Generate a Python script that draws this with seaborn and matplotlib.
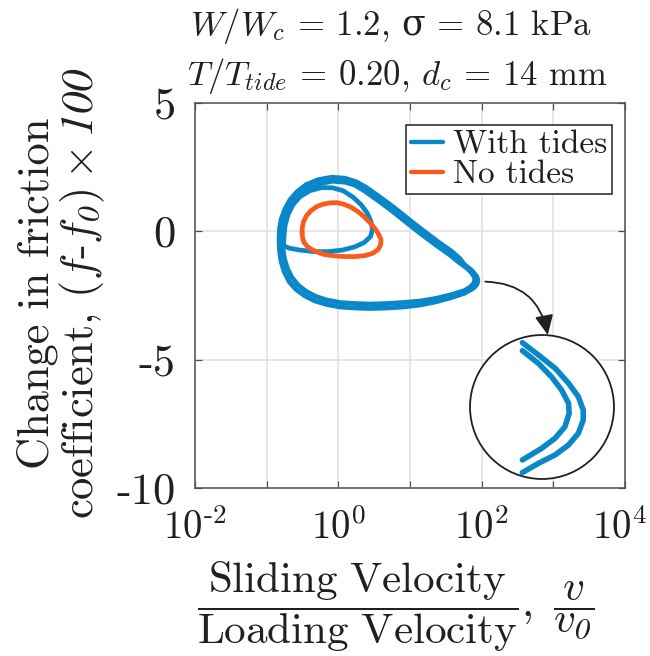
import numpy as np
import pandas as pd
import matplotlib
matplotlib.use("Agg")
import matplotlib.pyplot as plt
import seaborn as sns
from matplotlib.patches import Circle
from matplotlib.lines import Line2D
from matplotlib.transforms import ScaledTranslation
from matplotlib.ticker import FixedLocator, LogLocator, NullFormatter

# ---- data: log10(v/v0) and (f - f0) x 100 ----
# With tides: three successive slip cycles
cycle1_logv = [-0.450, -0.283, -0.092, 0.093, 0.247, 0.387, 0.554, 0.763, 0.972, 1.167,
               1.390, 1.586, 1.697, 1.760, 1.809, 1.860, 1.901, 1.931, 1.946, 1.946,
               1.931, 1.901, 1.860, 1.809, 1.760, 1.558, 1.349, 1.139, 0.902, 0.675,
               0.442, 0.233, 0.024, -0.162, -0.325, -0.464, -0.590, -0.688, -0.757, -0.799,
               -0.820, -0.827, -0.823, -0.799, -0.750, -0.674, -0.576, -0.450]
cycle1_fric = [1.817, 2.012, 2.109, 2.070, 1.934, 1.720, 1.389, 0.961, 0.494, 0.066,
               -0.401, -0.790, -1.062, -1.296, -1.402, -1.516, -1.645, -1.761, -1.876, -1.962,
               -2.077, -2.177, -2.263, -2.335, -2.415, -2.599, -2.755, -2.872, -2.949, -2.988,
               -3.008, -2.988, -2.949, -2.852, -2.716, -2.521, -2.268, -1.957, -1.568, -1.179,
               -0.790, -0.362, 0.066, 0.455, 0.844, 1.233, 1.545, 1.817]

cycle2_logv = [-0.409, -0.255, -0.081, 0.093, 0.233, 0.358, 0.526, 0.735, 0.944, 1.139,
               1.362, 1.558, 1.669, 1.760, 1.809, 1.849, 1.880, 1.901, 1.903, 1.890,
               1.860, 1.819, 1.760, 1.558, 1.349, 1.139, 0.902, 0.675, 0.442, 0.233,
               0.024, -0.158, -0.311, -0.444, -0.555, -0.646, -0.709, -0.750, -0.771, -0.778,
               -0.771, -0.750, -0.702, -0.632, -0.534, -0.409]
cycle2_fric = [1.681, 1.856, 1.953, 1.914, 1.798, 1.584, 1.253, 0.825, 0.358, -0.070,
               -0.537, -0.926, -1.179, -1.365, -1.474, -1.590, -1.704, -1.818, -1.905, -2.020,
               -2.119, -2.206, -2.306, -2.482, -2.619, -2.716, -2.774, -2.813, -2.833, -2.813,
               -2.774, -2.677, -2.541, -2.346, -2.113, -1.802, -1.451, -1.082, -0.712, -0.323,
               0.066, 0.436, 0.805, 1.136, 1.428, 1.681]

cycle3_logv = [-0.764, -0.757, -0.743, -0.702, -0.632, -0.534, -0.395, -0.241, -0.088, 0.066,
               0.205, 0.317, 0.400, 0.456, 0.477, 0.449, 0.358, 0.219, 0.052, -0.144,
               -0.339, -0.534, -0.688, -0.764]
cycle3_fric = [-0.556, -0.167, 0.222, 0.650, 1.039, 1.350, 1.584, 1.700, 1.700, 1.584,
               1.331, 1.039, 0.728, 0.377, 0.066, -0.206, -0.440, -0.615, -0.732, -0.790,
               -0.790, -0.732, -0.654, -0.556]

# No tides: single limit cycle
notide_logv = [-0.506, -0.502, -0.485, -0.444, -0.381, -0.304, -0.213, -0.116, -0.018, 0.079,
               0.177, 0.275, 0.358, 0.442, 0.512, 0.561, 0.596, 0.589, 0.554, 0.477,
               0.372, 0.233, 0.093, -0.046, -0.186, -0.283, -0.367, -0.430, -0.478, -0.499,
               -0.506]
notide_fric = [-0.051, 0.163, 0.377, 0.611, 0.805, 0.961, 1.058, 1.109, 1.117, 1.051,
               0.942, 0.767, 0.572, 0.339, 0.105, -0.109, -0.323, -0.537, -0.712, -0.860,
               -0.946, -0.984, -0.984, -0.957, -0.907, -0.821, -0.712, -0.595, -0.440, -0.245,
               -0.051]

# Portions of cycles 1 and 2 around the peak slip rate, shown in the magnifier
tip1 = slice(13, 25)
tip2 = slice(13, 23)

series_names = ["With tides", "No tides"]
x_tick_values = [1e-2, 1e-1, 1e0, 1e1, 1e2, 1e3, 1e4]
x_tick_labels = [r"$10^{\text{-}2}$", "", r"$10^{0}$", "", r"$10^{2}$", "", r"$10^{4}$"]
y_tick_values = [-10, -5, 0, 5]
y_tick_labels = ["-10", "-5", "0", "5"]

BLUE = "#0a87c9"
ORANGE = "#fa5a1e"
INK = "#231f20"
SPINE = "#505050"
GRID = "#e3e3e3"

# ---- style ----
sns.set_theme(style="ticks")
plt.rcParams.update({
    "font.family": ["cmr10", "DejaVu Serif"],
    "mathtext.fontset": "custom",
    "mathtext.rm": "cmr10",
    "mathtext.it": "cmmi10",
    "mathtext.bf": "STIXGeneral:italic",
    "mathtext.sf": "DejaVu Serif",
    "mathtext.tt": "cmtt10",
    "mathtext.cal": "cmsy10",
    "mathtext.fallback": "cm",
    "axes.unicode_minus": False,
    "text.color": INK,
    "axes.labelcolor": INK,
    "xtick.color": SPINE,
    "ytick.color": SPINE,
    "xtick.labelcolor": INK,
    "ytick.labelcolor": INK,
})

def frame(name, logv, fric, cycle):
    return pd.DataFrame({"v": np.power(10.0, logv), "fric": fric,
                         "series": name, "cycle": cycle})

df = pd.concat([
    frame(series_names[0], cycle1_logv, cycle1_fric, 1),
    frame(series_names[0], cycle2_logv, cycle2_fric, 2),
    frame(series_names[0], cycle3_logv, cycle3_fric, 3),
    frame(series_names[1], notide_logv, notide_fric, 4),
], ignore_index=True)

fig = plt.figure(figsize=(6.5, 6.56), dpi=100)
ax = fig.add_axes([195 / 650, 1 - 488 / 656, 430 / 650, 385 / 656])

sns.lineplot(data=df, x="v", y="fric", hue="series", units="cycle", estimator=None,
             sort=False, palette={series_names[0]: BLUE, series_names[1]: ORANGE},
             linewidth=3.4, legend=False, ax=ax)
for ln in ax.get_lines():
    ln.set_solid_joinstyle("round")
    ln.set_solid_capstyle("round")

ax.set_xscale("log")
ax.set_xlim(1e-2, 1e4)
ax.set_ylim(-10, 5)
ax.xaxis.set_major_locator(FixedLocator(x_tick_values))
ax.set_xticklabels(x_tick_labels)
ax.xaxis.set_minor_locator(LogLocator(base=10, subs=np.arange(2, 10)))
ax.xaxis.set_minor_formatter(NullFormatter())
ax.set_yticks(y_tick_values)
ax.set_yticklabels(y_tick_labels)
ax.set_xlabel("")
ax.set_ylabel("")

ax.grid(True, which="major", color=GRID, linewidth=1.2)
ax.set_axisbelow(True)
for s in ax.spines.values():
    s.set_color(SPINE)
    s.set_linewidth(1.1)
ax.tick_params(which="both", direction="in", top=True, right=True, width=0.9)
ax.tick_params(which="major", length=5)
ax.tick_params(axis="y", which="major", labelsize=32, pad=14)
ax.tick_params(axis="x", which="major", labelsize=28, pad=15)

# keep the last decade label inside the canvas
last = ax.xaxis.get_major_ticks()[-1].label1
last.set_transform(last.get_transform() + ScaledTranslation(-4 / 72, 0, fig.dpi_scale_trans))

handles = [Line2D([], [], color=BLUE, lw=3.1), Line2D([], [], color=ORANGE, lw=3.1)]
leg = ax.legend(handles, series_names, loc="upper right", bbox_to_anchor=(0.970, 0.943),
                borderaxespad=0, fontsize=24, handlelength=0.95, handletextpad=0.3,
                borderpad=0.15, labelspacing=0.02, fancybox=False, framealpha=1)
leg.get_frame().set_edgecolor(INK)
leg.get_frame().set_linewidth(1.1)

# ---- magnifier ----
ax_in = fig.add_axes([470 / 650, 1 - 479 / 656, 144 / 650, 144 / 656])
ax_in.set_xscale("log")
circ = Circle((0.5, 0.5), 0.5, transform=ax_in.transAxes, facecolor="white",
              edgecolor=INK, linewidth=1.3, clip_on=False, zorder=0)
ax_in.add_patch(circ)
zoom_df = pd.concat([
    frame(series_names[0], cycle1_logv[tip1], cycle1_fric[tip1], 1),
    frame(series_names[0], cycle2_logv[tip2], cycle2_fric[tip2], 2),
], ignore_index=True)
sns.lineplot(data=zoom_df, x="v", y="fric", units="cycle", estimator=None, sort=False,
             color=BLUE, linewidth=4.0, legend=False, ax=ax_in)
for ln in ax_in.get_lines():
    ln.set_clip_path(circ)
ax_in.set_xlim(10 ** 1.60, 10 ** 2.04)
ax_in.set_ylim(-2.47, -1.23)
ax_in.axis("off")

ax.annotate("", xy=(0.54, 1.0), xycoords=ax_in.transAxes,
            xytext=(10 ** 2.05, -1.96), textcoords="data",
            arrowprops=dict(arrowstyle="-|>,head_length=0.6,head_width=0.28",
                            mutation_scale=20, color=INK, lw=1.3,
                            connectionstyle="arc3,rad=-0.4", shrinkA=0, shrinkB=0),
            annotation_clip=False)

# ---- text ----
fig.text(391 / 650, 1 - 35 / 656, r"$W/W_c$ = 1.2, $\mathsf{\sigma}$ = 8.1 kPa",
         ha="center", va="baseline", fontsize=25)
fig.text(397 / 650, 1 - 85 / 656, r"$T/T_{tide}$ = 0.20, $d_c$ = 14 mm", ha="center",
         va="baseline", fontsize=25)
fig.text(62 / 650, 1 - 293 / 656,
         "Change in friction\n" + r"coefficient, $(f$-$f_{\mathbf{0}})\times\mathbf{100}$",
         rotation=90, ha="center", va="center", multialignment="center",
         fontsize=32, linespacing=1.0)
fig.text(396 / 650, 1 - 607 / 656,
         r"$\dfrac{\mathrm{Sliding\ Velocity}}{\mathrm{Loading\ Velocity}},\ \dfrac{v}{v_{\mathbf{0}}}$",
         ha="center", va="center", fontsize=31)

fig.savefig("out.png", dpi=100)
